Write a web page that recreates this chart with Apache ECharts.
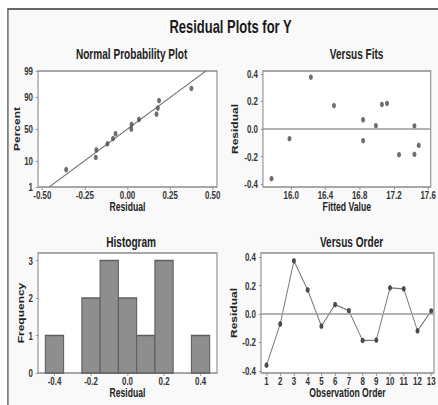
<!DOCTYPE html>
<html>
<head>
<meta charset="utf-8">
<script src="https://cdn.jsdelivr.net/npm/echarts@6/dist/echarts.min.js"></script>
<style>
  html, body { margin: 0; padding: 0; background: #fff; overflow: hidden; }
  #stage { position: absolute; left: 0; top: 0; width: 608px; height: 405px;
           transform: scaleX(0.7204); transform-origin: 0 0; }
  #frame { position: absolute; left: 9.7px; top: 8px; width: 800px; height: 600px;
           border: 2px solid #666; background: #f9f9f9; }
  #chart { position: absolute; left: 0; top: 0; width: 608px; height: 405px; }
</style>
</head>
<body>
<div id="stage"><div id="frame"></div><div id="chart"></div></div>
<script>
// Residuals in observation order, with the fitted value of each observation
const observationOrder = [1, 2, 3, 4, 5, 6, 7, 8, 9, 10, 11, 12, 13];
const residuals = [-0.36, -0.07, 0.375, 0.17, -0.085, 0.067, 0.024, -0.186, -0.183, 0.185, 0.178, -0.118, 0.022];
const fittedValues = [15.77, 15.98, 16.23, 16.50, 16.84, 16.84, 16.99, 17.26, 17.44, 17.12, 17.06, 17.49, 17.44];

// Plotting positions (percent) of the ranked residuals
const probPercents = [5.2, 12.7, 20.1, 27.6, 35.1, 42.5, 50.0, 57.5, 64.9, 72.4, 79.9, 87.3, 94.8];
// Reference line of the normal probability plot
const fitLineResidual = [-0.46, 0.46];
const fitLinePercent = [1, 99];

// Histogram bins
const histCenters = [-0.4, -0.3, -0.2, -0.1, 0.0, 0.1, 0.2, 0.3, 0.4];
const histCounts = [1, 0, 2, 3, 2, 1, 3, 0, 1];
const histBinWidth = 0.1;

// Tick labels
const percentTicks = [1, 10, 50, 90, 99];
const nppResidualTicks = [-0.5, -0.25, 0, 0.25, 0.5];
const fittedTicks = [16.0, 16.4, 16.8, 17.2, 17.6];
const residualTicks = [-0.4, -0.2, 0, 0.2, 0.4];
const histTicks = [-0.4, -0.2, 0, 0.2, 0.4];
const freqTicks = [0, 1, 2, 3];
const orderTicks = [1, 2, 3, 4, 5, 6, 7, 8, 9, 10, 11, 12, 13];

// Inverse standard normal CDF (Acklam) used for the probability scale
function probit(p) {
  const a = [-39.69683028665376, 220.9460984245205, -275.9285104469687, 138.3577518672690, -30.66479806614716, 2.506628277459239];
  const b = [-54.47609879822406, 161.5858368580409, -155.6989798598866, 66.80131188771972, -13.28068155288572];
  const c = [-0.007784894002430293, -0.3223964580411365, -2.400758277161838, -2.549732539343734, 4.374664141464968, 2.938163982698783];
  const d = [0.007784695709041462, 0.3224671290700398, 2.445134137142996, 3.754408661907416];
  const pl = 0.02425, ph = 1 - pl;
  let q, r;
  if (p < pl) {
    q = Math.sqrt(-2 * Math.log(p));
    return (((((c[0]*q+c[1])*q+c[2])*q+c[3])*q+c[4])*q+c[5]) / ((((d[0]*q+d[1])*q+d[2])*q+d[3])*q+1);
  } else if (p <= ph) {
    q = p - 0.5; r = q * q;
    return (((((a[0]*r+a[1])*r+a[2])*r+a[3])*r+a[4])*r+a[5])*q / (((((b[0]*r+b[1])*r+b[2])*r+b[3])*r+b[4])*r+1);
  }
  q = Math.sqrt(-2 * Math.log(1 - p));
  return -(((((c[0]*q+c[1])*q+c[2])*q+c[3])*q+c[4])*q+c[5]) / ((((d[0]*q+d[1])*q+d[2])*q+d[3])*q+1);
}
const pz = pct => probit(pct / 100);

const sortedResiduals = residuals.slice().sort((x, y) => x - y);
const nppPoints = sortedResiduals.map((r, i) => [r, pz(probPercents[i])]);
const nppLine = fitLineResidual.map((r, i) => [r, pz(fitLinePercent[i])]);
const fitsPoints = fittedValues.map((f, i) => [f, residuals[i]]);
const orderPoints = observationOrder.map((o, i) => [o, residuals[i]]);
const histData = histCenters.map((c, i) => [c, histCounts[i]]);
const percentTickZ = percentTicks.map(pz);

const FONT = '"Liberation Sans", Arial, sans-serif';
const INK = '#4a4a4a';
const tickLabel = { fontFamily: FONT, fontSize: 11, fontWeight: 'bold', color: '#333' };
const axisName = { fontFamily: FONT, fontSize: 12, fontWeight: 'bold', color: '#222' };

function valueAxis(gridIndex, min, max, ticks, fmt, name, nameGap, isY) {
  return {
    type: 'value', gridIndex, min, max,
    name, nameLocation: 'middle', nameGap,
    nameTextStyle: axisName,
    axisLine: { show: false, onZero: false },
    axisTick: { show: true, customValues: ticks, length: 3, lineStyle: { color: '#888', width: 1 } },
    axisLabel: Object.assign({ customValues: ticks, formatter: fmt, margin: isY ? 7 : 2 }, tickLabel),
    splitLine: { show: false }
  };
}

const grids = [
  { left: 52.8, top: 71, width: 248.4, height: 116 },
  { left: 365, top: 71, width: 237.4, height: 116 },
  { left: 52.8, top: 253, width: 248.4, height: 120 },
  { left: 362.3, top: 253, width: 240.1, height: 120 }
].map(g => Object.assign(g, { show: true, backgroundColor: '#fff', borderColor: '#8c8c8c', borderWidth: 1.5 }));

const zeroLine = {
  silent: true, symbol: 'none', label: { show: false },
  lineStyle: { color: '#9a9a9a', width: 1.5, type: 'solid' },
  data: [{ yAxis: 0 }]
};

const subTitle = (text, left, top) => ({
  text, left, top, textAlign: 'center',
  textStyle: { fontFamily: FONT, fontSize: 14, fontWeight: 'bold', color: '#222' }
});

const option = {
  animation: false,
  backgroundColor: 'transparent',
  title: [
    { text: 'Residual Plots for Y', left: 315, top: 13, textAlign: 'center',
      textStyle: { fontFamily: FONT, fontSize: 18, fontWeight: 'bold', color: '#1a1a1a' } },
    subTitle('Normal Probability Plot', 177.7, 42),
    subTitle('Versus Fits', 490, 42),
    subTitle('Histogram', 177, 230),
    subTitle('Versus Order', 483, 230)
  ],
  grid: grids,
  xAxis: [
    valueAxis(0, -0.525, 0.525, nppResidualTicks, v => v.toFixed(2), 'Residual', 14, false),
    valueAxis(1, 15.67, 17.63, fittedTicks, v => v.toFixed(1), 'Fitted Value', 14, false),
    valueAxis(2, -0.49, 0.49, histTicks, v => v.toFixed(1), 'Residual', 14, false),
    valueAxis(3, 0.6, 13.2, orderTicks, v => String(v), 'Observation Order', 14, false)
  ],
  yAxis: [
    valueAxis(0, pz(1), pz(99), percentTickZ, v => {
      const k = percentTickZ.findIndex(z => Math.abs(z - v) < 1e-6);
      return k >= 0 ? String(percentTicks[k]) : '';
    }, 'Percent', 23, true),
    valueAxis(1, -0.42, 0.42, residualTicks, v => v.toFixed(1), 'Residual', 33, true),
    valueAxis(2, 0, 3.2, freqTicks, v => String(v), 'Frequency', 17.6, true),
    valueAxis(3, -0.415, 0.43, residualTicks, v => v.toFixed(1), 'Residual', 32, true)
  ],
  series: [
    { type: 'line', xAxisIndex: 0, yAxisIndex: 0, data: nppLine, symbol: 'none',
      lineStyle: { color: '#707070', width: 1.3 }, z: 2 },
    { type: 'scatter', xAxisIndex: 0, yAxisIndex: 0, data: nppPoints, symbolSize: 5.5,
      itemStyle: { color: INK }, z: 3 },
    { type: 'scatter', xAxisIndex: 1, yAxisIndex: 1, data: fitsPoints, symbolSize: 5.5,
      itemStyle: { color: INK }, markLine: zeroLine, z: 3 },
    { type: 'custom', xAxisIndex: 2, yAxisIndex: 2, data: histData,
      encode: { x: 0, y: 1 },
      renderItem: function (params, api) {
        const c = api.value(0), n = api.value(1);
        if (!n) return null;
        const p0 = api.coord([c - histBinWidth / 2, n]);
        const p1 = api.coord([c + histBinWidth / 2, 0]);
        return {
          type: 'rect',
          shape: { x: p0[0], y: p0[1], width: p1[0] - p0[0], height: p1[1] - p0[1] },
          style: { fill: '#8e8e8e', stroke: '#5e5e5e', lineWidth: 1.5 }
        };
      } },
    { type: 'line', xAxisIndex: 3, yAxisIndex: 3, data: orderPoints,
      symbol: 'circle', symbolSize: 5.5, itemStyle: { color: INK },
      lineStyle: { color: '#777', width: 1.3 }, markLine: zeroLine, z: 3 }
  ]
};

const chart = echarts.init(document.getElementById('chart'), null, { renderer: 'svg' });
chart.setOption(option);
</script>
</body>
</html>
